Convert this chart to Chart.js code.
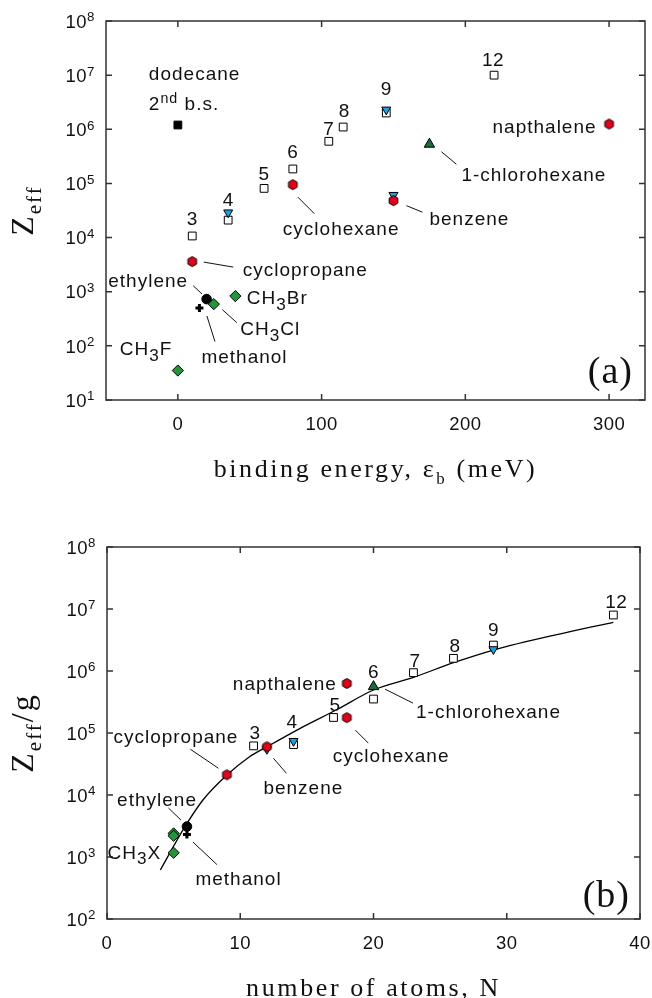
<!DOCTYPE html>
<html lang="en">
<head>
<meta charset="UTF-8">
<title>Zeff vs binding energy and molecular size</title>
<script src="https://cdn.jsdelivr.net/npm/chart.js"></script>
<style>
  body { margin: 0; background: #fff; }
  canvas { position: absolute; left: 0; }
</style>
</head>
<body>
<canvas id="chartA" width="652" height="500" style="top:0"></canvas>
<canvas id="chartB" width="652" height="498" style="top:500px"></canvas>
<script>
// ---------- panel (a): Zeff against binding energy (meV) ----------
const alkaneEb = [10, 35, 60, 80, 105, 115, 145, 220];
const alkaneZeff = [1.07e4, 2.1e4, 8.1e4, 1.85e5, 6.0e5, 1.1e6, 2.0e6, 1.0e7];
const alkaneCarbons = ['3', '4', '5', '6', '7', '8', '9', '12'];

const deutEb = [35, 145, 150];
const deutZeff = [2.9e4, 2.3e6, 6.1e4];

// cyclopropane, cyclohexane, benzene, napthalene
const ringEb = [10, 80, 150, 300];
const ringZeff = [3.6e3, 9.5e4, 4.8e4, 1.25e6];

// CH3F, CH3Cl, CH3Br
const halideEb = [0, 25, 40];
const halideZeff = [35, 590, 830];

const chlorohexaneEb = [175];
const chlorohexaneZeff = [5.3e5];
const ethyleneEb = [20];
const ethyleneZeff = [730];
const methanolEb = [15];
const methanolZeff = [500];
const dodecane2bsEb = [0];
const dodecane2bsZeff = [1.2e6];

const ebTicks = [0, 100, 200, 300];
const zeffDecades = [1, 2, 3, 4, 5, 6, 7, 8];

// ---------- panel (b): Zeff/g against number of atoms ----------
const alkaneN = [11, 14, 17, 20, 23, 26, 29, 38];
const alkaneZg = [6.2e4, 6.5e4, 1.78e5, 3.53e5, 9.4e5, 1.6e6, 2.62e6, 8.0e6];

const deutN = [14, 29, 12];
const deutZg = [7.4e4, 2.24e6, 5.5e4];

const ringN = [9, 18, 12, 18];
const ringZg = [2.12e4, 1.77e5, 6.0e4, 6.3e5];

const halideN = [5, 5, 5];
const halideZg = [2.4e3, 2.2e3, 1.17e3];

const chlorohexaneN = [20];
const chlorohexaneZg = [5.6e5];
const ethyleneN = [6];
const ethyleneZg = [3.1e3];
const methanolN = [6];
const methanolZg = [2.3e3];

// fitted curve, read point by point
const fitN = [4, 5.85, 7.2, 9, 10.7, 12, 14.5, 17.2, 20, 23, 26, 29, 34.2, 38];
const fitZg = [617, 3.08e3, 8.3e3, 2.1e4, 4.15e4, 6.0e4, 1.19e5, 2.35e5, 4.94e5, 7.9e5, 1.36e6, 2.18e6, 4.06e6, 6.1e6];

const nTicks = [0, 10, 20, 30, 40];
const zgDecades = [2, 3, 4, 5, 6, 7, 8];

// ---------- marker styles ----------
function hexagon(r, fill) {
  const c = document.createElement('canvas');
  const s = Math.ceil(2 * r + 3);
  c.width = s; c.height = s;
  const g = c.getContext('2d');
  g.beginPath();
  for (let i = 0; i < 6; i++) {
    const a = -Math.PI / 2 + i * Math.PI / 3;
    g.lineTo(s / 2 + r * Math.cos(a), s / 2 + r * Math.sin(a));
  }
  g.closePath();
  g.fillStyle = fill; g.fill();
  g.strokeStyle = '#000'; g.lineWidth = 1; g.stroke();
  return c;
}
const redHex = hexagon(5, '#e2001a');

const openSquare = { pointStyle: 'rect', pointRadius: 5.5, pointBackgroundColor: '#fff', pointBorderColor: '#000', pointBorderWidth: 1 };
const blackSquare = { pointStyle: 'rect', pointRadius: 5.5, pointBackgroundColor: '#000', pointBorderColor: '#000', pointBorderWidth: 1 };
const blueDown = { pointStyle: 'triangle', pointRotation: 180, pointRadius: 5.2, pointBackgroundColor: '#1ba1e2', pointBorderColor: '#000', pointBorderWidth: 1 };
const ringMark = { pointStyle: redHex, pointRadius: 5 };
const greenDiamond = { pointStyle: 'rectRot', pointRadius: 5.6, pointBackgroundColor: '#23963c', pointBorderColor: '#000', pointBorderWidth: 1 };
const greenUp = { pointStyle: 'triangle', pointRadius: 6, pointBackgroundColor: '#1b6b3c', pointBorderColor: '#000', pointBorderWidth: 1 };
const blackDot = { pointStyle: 'circle', pointRadius: 4.8, pointBackgroundColor: '#000', pointBorderColor: '#000', pointBorderWidth: 1 };
const blackCross = { pointStyle: 'cross', pointRadius: 4, pointBorderColor: '#000', pointBorderWidth: 3 };

const pts = (xs, ys) => xs.map((x, i) => ({ x, y: ys[i] }));
const marks = (xs, ys, style, order) => ({ type: 'scatter', data: pts(xs, ys), order, showLine: false, ...style });

// ---------- text helpers ----------
const SANS = '"Liberation Sans", Arial, sans-serif';
const SERIF = '"Liberation Serif", "Times New Roman", serif';
const noteFont = { size: 19, family: SANS, spacing: 1, subScale: 0.9, subDrop: 0.3, supScale: 0.75, supRise: 0.38 };
const tickFont = { size: 18.5, family: SANS, spacing: 0.5, supScale: 0.72, supRise: 0.34 };

function drawRich(ctx, segs, x, y, align, f) {
  const parts = segs.map(([t, k]) => {
    const sz = k === 'sub' ? f.size * f.subScale : k === 'sup' ? f.size * f.supScale : f.size;
    ctx.font = sz + 'px ' + f.family;
    ctx.letterSpacing = (f.spacing || 0) + 'px';
    const dy = k === 'sub' ? f.size * f.subDrop : k === 'sup' ? -f.size * f.supRise : 0;
    return { t, sz, dy, w: ctx.measureText(t).width };
  });
  const total = parts.reduce((s, p) => s + p.w, 0);
  let cx = align === 'right' ? x - total : align === 'center' ? x - total / 2 : x;
  ctx.textAlign = 'left';
  ctx.textBaseline = 'alphabetic';
  parts.forEach(p => {
    ctx.font = p.sz + 'px ' + f.family;
    ctx.letterSpacing = (f.spacing || 0) + 'px';
    ctx.fillText(p.t, cx, y + p.dy);
    cx += p.w;
  });
}
// vertically centred on the capitals
const drawMid = (ctx, segs, x, y, align, f) => drawRich(ctx, segs, x, y + f.size * 0.36, align, f);

// frame, inward ticks, labels, titles and callouts
const decor = {
  id: 'decor',
  afterDraw(chart, args, o) {
    const ctx = chart.ctx, a = chart.chartArea, xs = chart.scales.x, ys = chart.scales.y;
    ctx.save();
    ctx.strokeStyle = '#333';
    ctx.lineWidth = 1.5;
    ctx.strokeRect(a.left, a.top, a.right - a.left, a.bottom - a.top);

    ctx.beginPath();
    o.xTicks.forEach(v => {
      const px = xs.getPixelForValue(v);
      ctx.moveTo(px, a.bottom); ctx.lineTo(px, a.bottom - 6);
      ctx.moveTo(px, a.top); ctx.lineTo(px, a.top + 6);
    });
    o.yDecades.forEach(e => {
      const py = ys.getPixelForValue(Math.pow(10, e));
      ctx.moveTo(a.left, py); ctx.lineTo(a.left + 6, py);
      ctx.moveTo(a.right, py); ctx.lineTo(a.right - 6, py);
    });
    ctx.stroke();

    ctx.fillStyle = '#111';
    o.xTicks.forEach(v => drawMid(ctx, [[String(v)]], xs.getPixelForValue(v), a.bottom + 23, 'center', tickFont));
    o.yDecades.forEach(e => drawMid(ctx, [['10'], [String(e), 'sup']], a.left - 11, ys.getPixelForValue(Math.pow(10, e)), 'right', tickFont));

    // axis titles
    const cx = (a.left + a.right) / 2, cy = (a.top + a.bottom) / 2;
    drawRich(ctx, o.xTitle, cx, a.bottom + 77, 'center',
      { size: 26, family: SERIF, spacing: 2.6, subScale: 0.65, subDrop: 0.25 });
    ctx.save();
    ctx.translate(33, cy);
    ctx.rotate(-Math.PI / 2);
    drawRich(ctx, o.yTitle, 0, 0, 'center',
      { size: 32, family: SERIF, spacing: 2, subScale: 0.66, subDrop: 0.24 });
    ctx.restore();

    // carbon-number labels over the alkane squares
    o.numbers.xs.forEach((x, i) => {
      const [dx, dy] = o.numbers.offsets[i];
      drawMid(ctx, [[o.numbers.text[i]]], xs.getPixelForValue(x) + dx,
        ys.getPixelForValue(o.numbers.ys[i]) + dy, 'center', { size: 19, family: SANS, spacing: 0.5 });
    });

    // named callouts with leader lines
    ctx.strokeStyle = '#111';
    ctx.lineWidth = 1;
    o.notes.forEach(n => {
      const px = xs.getPixelForValue(n.at[0]), py = ys.getPixelForValue(n.at[1]);
      if (n.line) {
        ctx.beginPath();
        ctx.moveTo(px + n.line[0], py + n.line[1]);
        ctx.lineTo(px + n.line[2], py + n.line[3]);
        ctx.stroke();
      }
      drawMid(ctx, n.text, px + n.dx, py + n.dy, n.align || 'left', noteFont);
    });

    drawRich(ctx, [[o.panel]], a.right - o.panelInset[0], a.bottom - o.panelInset[1], 'right',
      { size: 38, family: SERIF, spacing: 1 });
    ctx.restore();
  }
};

function panelOptions(xMin, xMax, yMin, yMax, padding, decorOpts) {
  const hidden = { ticks: { display: false }, grid: { display: false, drawTicks: false }, border: { display: false } };
  return {
    responsive: false,
    animation: false,
    layout: { padding },
    plugins: { legend: { display: false }, tooltip: { enabled: false }, decor: decorOpts },
    scales: {
      x: { type: 'linear', min: xMin, max: xMax, ...hidden },
      y: { type: 'logarithmic', min: yMin, max: yMax, ...hidden }
    }
  };
}

// ---------- chart (a) ----------
new Chart(document.getElementById('chartA'), {
  type: 'scatter',
  data: {
    datasets: [
      marks(alkaneEb, alkaneZeff, openSquare, 5),
      marks(dodecane2bsEb, dodecane2bsZeff, blackSquare, 4),
      marks(deutEb, deutZeff, blueDown, 3),
      marks(ringEb, ringZeff, ringMark, 2),
      marks(halideEb, halideZeff, greenDiamond, 2),
      marks(chlorohexaneEb, chlorohexaneZeff, greenUp, 2),
      marks(ethyleneEb, ethyleneZeff, blackDot, 2),
      marks(methanolEb, methanolZeff, blackCross, 1)
    ]
  },
  options: panelOptions(-50, 325, 10, 1e8, { left: 106, top: 21, right: 4, bottom: 100 }, {
    xTicks: ebTicks,
    yDecades: zeffDecades,
    xTitle: [['binding energy, \u03b5'], ['b', 'sub'], [' (meV)']],
    yTitle: [['Z'], ['eff', 'sub']],
    panel: '(a)',
    panelInset: [12, 17],
    numbers: {
      xs: alkaneEb, ys: alkaneZeff, text: alkaneCarbons,
      offsets: [[0, -17.5], [0, -21], [0, -15.5], [0, -17.5], [0, -13], [1, -17], [0, -24.5], [-1, -15.5]]
    },
    notes: [
      { at: [dodecane2bsEb[0], dodecane2bsZeff[0]], dx: -29, dy: -52, text: [['dodecane']] },
      { at: [dodecane2bsEb[0], dodecane2bsZeff[0]], dx: -29, dy: -22, text: [['2'], ['nd', 'sup'], [' b.s.']] },
      { at: [ringEb[1], ringZeff[1]], dx: -10, dy: 44, text: [['cyclohexane']], line: [5, 12.5, 21.5, 29] },
      { at: [ringEb[0], ringZeff[0]], dx: 50.5, dy: 7.5, text: [['cyclopropane']], line: [11.5, 0.5, 41, 5.5] },
      { at: [ringEb[2], ringZeff[2]], dx: 36, dy: 17.5, text: [['benzene']], line: [13, 5, 29, 11.5] },
      { at: [ringEb[3], ringZeff[3]], dx: -12.5, dy: 2, text: [['napthalene']], align: 'right' },
      { at: [chlorohexaneEb[0], chlorohexaneZeff[0]], dx: 32, dy: 30, text: [['1-chlorohexane']], line: [12, 7.5, 27, 20] },
      { at: [ethyleneEb[0], ethyleneZeff[0]], dx: -18.5, dy: -18.5, text: [['ethylene']], align: 'right', line: [-13.5, -13.5, -4.5, -5] },
      { at: [halideEb[1], halideZeff[1]], dx: 26.5, dy: 24, text: [['CH'], ['3', 'sub'], ['Cl']], line: [8.5, 5.5, 23, 18.5] },
      { at: [halideEb[2], halideZeff[2]], dx: 11.5, dy: 1.5, text: [['CH'], ['3', 'sub'], ['Br']] },
      { at: [methanolEb[0], methanolZeff[0]], dx: 2, dy: 48, text: [['methanol']], line: [7.5, 8, 15.5, 33.5] },
      { at: [halideEb[0], halideZeff[0]], dx: -58, dy: -22, text: [['CH'], ['3', 'sub'], ['F']] }
    ]
  }),
  plugins: [decor]
});

// ---------- chart (b) ----------
new Chart(document.getElementById('chartB'), {
  type: 'scatter',
  data: {
    datasets: [
      { type: 'line', data: pts(fitN, fitZg), order: 9, borderColor: '#000', borderWidth: 1.3,
        pointRadius: 0, fill: false, cubicInterpolationMode: 'monotone' },
      marks(alkaneN, alkaneZg, openSquare, 5),
      marks(deutN, deutZg, blueDown, 3),
      marks(ringN, ringZg, ringMark, 2),
      marks(halideN, halideZg, greenDiamond, 2),
      marks(chlorohexaneN, chlorohexaneZg, greenUp, 2),
      marks(ethyleneN, ethyleneZg, blackDot, 2),
      marks(methanolN, methanolZg, blackCross, 1)
    ]
  },
  options: panelOptions(0, 40, 100, 1e8, { left: 107, top: 47, right: 12, bottom: 79 }, {
    xTicks: nTicks,
    yDecades: zgDecades,
    xTitle: [['number of atoms, N']],
    yTitle: [['Z'], ['eff', 'sub'], ['/g']],
    panel: '(b)',
    panelInset: [10, 12],
    numbers: {
      xs: alkaneN, ys: alkaneZg, text: alkaneCarbons,
      offsets: [[1.5, -13.5], [-1.5, -23.5], [1.5, -13.5], [0, -27.5], [1.5, -13], [1.5, -13.5], [0, -15.5], [3, -13.5]]
    },
    notes: [
      { at: [ethyleneN[0], ethyleneZg[0]], dx: 10, dy: -27.5, text: [['ethylene']], align: 'right', line: [-18.5, -18.5, -6, -6.5] },
      { at: [methanolN[0], methanolZg[0]], dx: 8.5, dy: 43.5, text: [['methanol']], line: [6, 7.5, 30, 30] },
      { at: [halideN[2], halideZg[2]], dx: -12.5, dy: -1, text: [['CH'], ['3', 'sub'], ['X']], align: 'right' },
      { at: [ringN[0], ringZg[0]], dx: 11.5, dy: -38.5, text: [['cyclopropane']], align: 'right', line: [-36.5, -25.5, -8.5, -6.5] },
      { at: [ringN[2], ringZg[2]], dx: -3.5, dy: 40, text: [['benzene']], line: [6.5, 11.5, 19.5, 26.5] },
      { at: [ringN[1], ringZg[1]], dx: -14, dy: 37.5, text: [['cyclohexane']], line: [8.5, 12.5, 21.5, 25.5] },
      { at: [chlorohexaneN[0], chlorohexaneZg[0]], dx: 42.5, dy: 25, text: [['1-chlorohexane']], line: [11.5, 2.5, 39.5, 16.5] },
      { at: [ringN[3], ringZg[3]], dx: -10, dy: 0, text: [['napthalene']], align: 'right' }
    ]
  }),
  plugins: [decor]
});
</script>
</body>
</html>
